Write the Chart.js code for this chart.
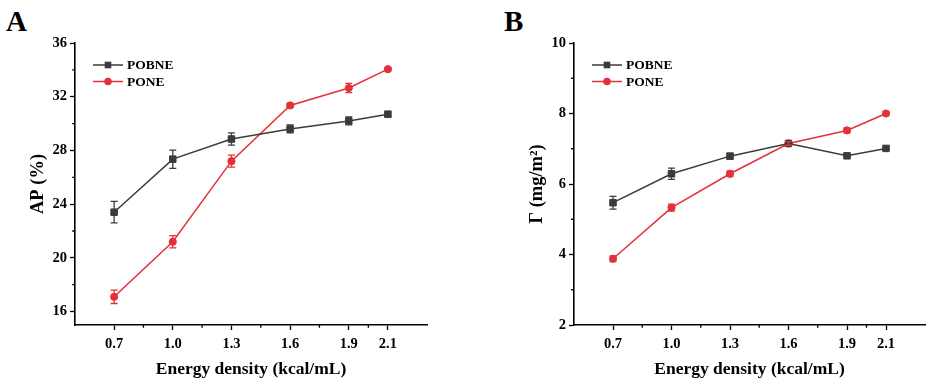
<!DOCTYPE html>
<html>
<head>
<meta charset="utf-8">
<script src="https://cdn.jsdelivr.net/npm/chart.js@4.4.1/dist/chart.umd.min.js"></script>
<style>
  html, body { margin: 0; padding: 0; background: #fff; }
  body { width: 935px; height: 386px; position: relative; overflow: hidden; font-family: "Liberation Serif", "Times New Roman", serif; }
  .panel { position: absolute; top: 0; height: 386px; }
  .letter { position: absolute; font-weight: bold; font-size: 29px; line-height: 29px; color: #000; }
</style>
</head>
<body>
<div class="letter" style="left:6px; top:7px;">A</div>
<div class="letter" style="left:504px; top:7px;">B</div>
<div class="panel" style="left:0; width:467px;"><canvas id="cA"></canvas></div>
<div class="panel" style="left:499px; width:436px;"><canvas id="cB"></canvas></div>
<script>
// ---- data ----
const energy = [0.7, 1.0, 1.3, 1.6, 1.9, 2.1];
const xTickValues = [0.7, 1.0, 1.3, 1.6, 1.9, 2.1];
const xMinorValues = [0.85, 1.15, 1.45, 1.75, 2.0];

const seriesNames = ['POBNE', 'PONE'];

const apPOBNE = [23.4, 27.35, 28.85, 29.6, 30.2, 30.7];
const apPOBNEErr = [0.8, 0.68, 0.45, 0.3, 0.3, 0.15];
const apPONE = [17.1, 21.2, 27.2, 31.35, 32.65, 34.05];
const apPONEErr = [0.5, 0.45, 0.45, 0.15, 0.35, 0.1];
const apTicks = [16, 20, 24, 28, 32, 36];
const apMinor = [18, 22, 26, 30, 34];

const gPOBNE = [5.47, 6.29, 6.79, 7.15, 6.8, 7.01];
const gPOBNEErr = [0.18, 0.16, 0.08, 0.06, 0.06, 0.05];
const gPONE = [3.88, 5.33, 6.29, 7.15, 7.52, 8.0];
const gPONEErr = [0.08, 0.1, 0.08, 0.05, 0.07, 0.05];
const gTicks = [2, 4, 6, 8, 10];
const gMinor = [3, 5, 7, 9];

// ---- styles ----
const FONT = "'Liberation Serif', 'Times New Roman', serif";
const DARK = '#3b3b3b';
const RED = '#e3313a';

function mkDataset(label, ys, errs, color, style) {
  return {
    label: label,
    data: energy.map((x, i) => ({ x: x, y: ys[i] })),
    errors: errs,
    borderColor: color,
    backgroundColor: color,
    borderWidth: 1.5,
    pointStyle: style,
    pointRadius: style === 'rect' ? 4.6 : 3.6,
    pointBorderWidth: 1,
    pointHoverRadius: 4,
    tension: 0
  };
}

const errorBarPlugin = {
  id: 'errorBars',
  afterDatasetsDraw(chart) {
    const ctx = chart.ctx;
    const xs = chart.scales.x, ys = chart.scales.y;
    chart.data.datasets.forEach(ds => {
      ctx.save();
      ctx.strokeStyle = ds.borderColor;
      ctx.lineWidth = 1.3;
      ds.data.forEach((p, i) => {
        const e = ds.errors[i];
        const px = xs.getPixelForValue(p.x);
        const pt = ys.getPixelForValue(p.y + e);
        const pb = ys.getPixelForValue(p.y - e);
        ctx.beginPath();
        ctx.moveTo(px, pt); ctx.lineTo(px, pb);
        ctx.moveTo(px - 3.5, pt); ctx.lineTo(px + 3.5, pt);
        ctx.moveTo(px - 3.5, pb); ctx.lineTo(px + 3.5, pb);
        ctx.stroke();
      });
      ctx.restore();
    });
  }
};

const minorTickPlugin = {
  id: 'minorTicks',
  afterDraw(chart, args, opts) {
    const ctx = chart.ctx;
    const xs = chart.scales.x, ys = chart.scales.y;
    const ca = chart.chartArea;
    ctx.save();
    ctx.strokeStyle = '#000';
    ctx.lineWidth = 1.3;
    ctx.beginPath();
    (opts.x || []).forEach(v => {
      const px = xs.getPixelForValue(v);
      ctx.moveTo(px, ca.bottom); ctx.lineTo(px, ca.bottom + 2.8);
    });
    (opts.y || []).forEach(v => {
      const py = ys.getPixelForValue(v);
      ctx.moveTo(ca.left, py); ctx.lineTo(ca.left - 2.8, py);
    });
    ctx.stroke();
    ctx.restore();
  }
};

const legendPlugin = {
  id: 'innerLegend',
  afterDraw(chart, args, opts) {
    const ctx = chart.ctx;
    const ca = chart.chartArea;
    ctx.save();
    chart.data.datasets.forEach((ds, i) => {
      const y = ca.top + opts.top + i * opts.row;
      const x0 = ca.left + opts.left;
      ctx.strokeStyle = ds.borderColor;
      ctx.lineWidth = 1.5;
      ctx.beginPath();
      ctx.moveTo(x0, y); ctx.lineTo(x0 + 30, y);
      ctx.stroke();
      ctx.fillStyle = ds.backgroundColor;
      if (ds.pointStyle === 'rect') {
        ctx.fillRect(x0 + 15 - 3.3, y - 3.3, 6.6, 6.6);
      } else {
        ctx.beginPath();
        ctx.arc(x0 + 15, y, 3.8, 0, Math.PI * 2);
        ctx.fill();
      }
      ctx.fillStyle = '#000';
      ctx.font = 'bold 13.5px ' + FONT;
      ctx.textBaseline = 'middle';
      ctx.textAlign = 'left';
      ctx.fillText(ds.label, x0 + 34, y + 1);
    });
    ctx.restore();
  }
};

function makeChart(id, datasets, yMin, yMax, yTicks, yMinor, yTitle, rightPad) {
  return new Chart(document.getElementById(id), {
    type: 'line',
    data: { datasets: datasets },
    plugins: [errorBarPlugin, minorTickPlugin, legendPlugin],
    options: {
      responsive: true,
      maintainAspectRatio: false,
      animation: false,
      events: [],
      layout: { padding: { left: 0, right: rightPad, top: 43, bottom: 0 } },
      plugins: {
        legend: { display: false },
        tooltip: { enabled: false },
        minorTicks: { x: xMinorValues, y: yMinor },
        innerLegend: { left: 18, top: 22, row: 16.5 }
      },
      scales: {
        x: {
          type: 'linear',
          min: 0.5, max: 2.3,
          afterBuildTicks: s => { s.ticks = xTickValues.map(v => ({ value: v })); },
          afterFit: s => { s.height = 61; },
          border: { display: true, color: '#000', width: 1.6 },
          grid: { drawOnChartArea: false, drawTicks: true, tickLength: 5, tickColor: '#000', tickWidth: 1.3 },
          ticks: {
            color: '#000', padding: 6, maxRotation: 0, autoSkip: false,
            font: { family: FONT, size: 14.5, weight: 'bold' },
            callback: v => Number(v).toFixed(1)
          },
          title: {
            display: true, text: 'Energy density (kcal/mL)', color: '#000',
            font: { family: FONT, size: 17.5, weight: 'bold' },
            padding: { top: 0, bottom: 6 }
          }
        },
        y: {
          type: 'linear',
          min: yMin, max: yMax,
          afterBuildTicks: s => { s.ticks = yTicks.map(v => ({ value: v })); },
          afterFit: s => { s.width = 75; },
          border: { display: true, color: '#000', width: 1.6 },
          grid: { drawOnChartArea: false, drawTicks: true, tickLength: 5, tickColor: '#000', tickWidth: 1.3 },
          ticks: {
            color: '#000', padding: 3, autoSkip: false,
            font: { family: FONT, size: 14.5, weight: 'bold' },
            callback: v => String(v)
          },
          title: {
            display: true, text: yTitle, color: '#000',
            font: { family: FONT, size: 18.5, weight: 'bold' },
            padding: { top: 27, bottom: 0 }
          }
        }
      }
    }
  });
}

makeChart('cA', [
  mkDataset(seriesNames[0], apPOBNE, apPOBNEErr, DARK, 'rect'),
  mkDataset(seriesNames[1], apPONE, apPONEErr, RED, 'circle')
], 15, 36, apTicks, apMinor, 'AP (%)', 40);

makeChart('cB', [
  mkDataset(seriesNames[0], gPOBNE, gPOBNEErr, DARK, 'rect'),
  mkDataset(seriesNames[1], gPONE, gPONEErr, RED, 'circle')
], 2, 10, gTicks, gMinor, 'Γ (mg/m²)', 10);
</script>
</body>
</html>
